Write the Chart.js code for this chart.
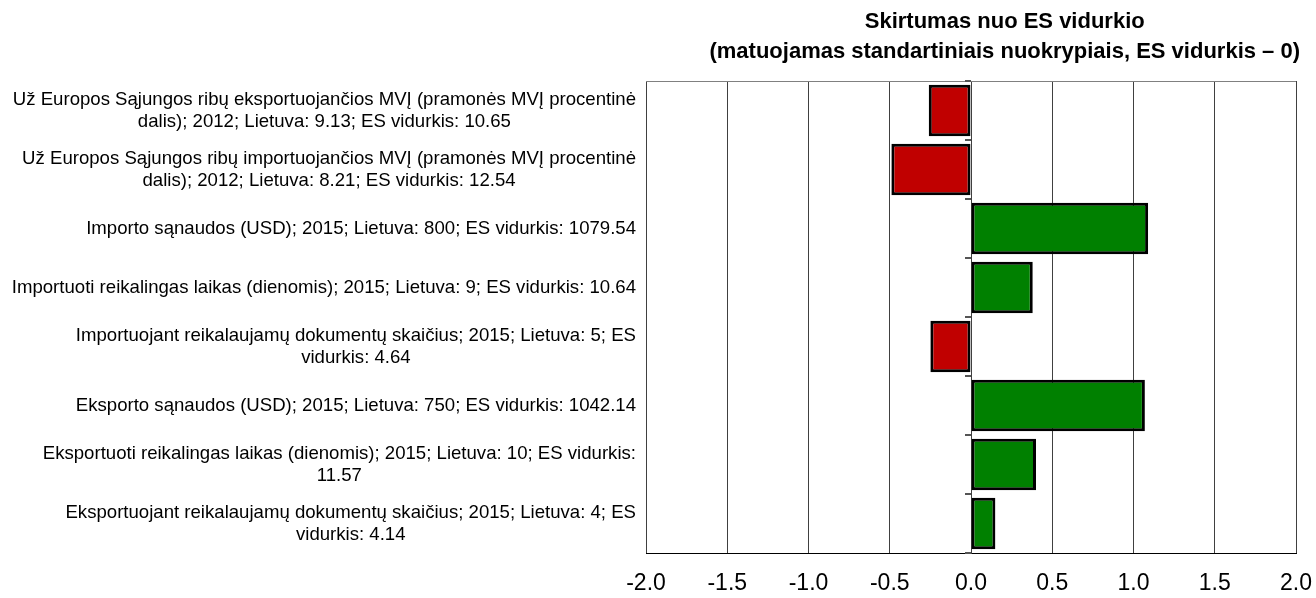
<!DOCTYPE html>
<html>
<head>
<meta charset="utf-8">
<script src="https://cdn.jsdelivr.net/npm/chart.js@4/dist/chart.umd.min.js"></script>
<style>
  html, body { margin: 0; padding: 0; background: #fff; }
  #wrap { width: 1316px; height: 598px; position: relative; }
</style>
</head>
<body>
<div id="wrap"><canvas id="chart"></canvas></div>
<script>
// Rodikliai (kategorijų etiketės, po eilutę masyve)
const categories = [
    ['Už Europos Sąjungos ribų eksportuojančios MVĮ (pramonės MVĮ procentinė', 'dalis); 2012; Lietuva: 9.13; ES vidurkis: 10.65'],
    ['Už Europos Sąjungos ribų importuojančios MVĮ (pramonės MVĮ procentinė', 'dalis); 2012; Lietuva: 8.21; ES vidurkis: 12.54'],
    ['Importo sąnaudos (USD); 2015; Lietuva: 800; ES vidurkis: 1079.54'],
    ['Importuoti reikalingas laikas (dienomis); 2015; Lietuva: 9; ES vidurkis: 10.64'],
    ['Importuojant reikalaujamų dokumentų skaičius; 2015; Lietuva: 5; ES', 'vidurkis: 4.64'],
    ['Eksporto sąnaudos (USD); 2015; Lietuva: 750; ES vidurkis: 1042.14'],
    ['Eksportuoti reikalingas laikas (dienomis); 2015; Lietuva: 10; ES vidurkis:', '11.57'],
    ['Eksportuojant reikalaujamų dokumentų skaičius; 2015; Lietuva: 4; ES', 'vidurkis: 4.14']
];

// Skirtumas nuo ES vidurkio, standartiniais nuokrypiais
const values = [-0.26, -0.49, 1.09, 0.38, -0.25, 1.07, 0.40, 0.15];

// X ašies ribos ir žingsnis
const xMin = -2.0;
const xMax = 2.0;
const xStep = 0.5;

const titleLines = [
    'Skirtumas nuo ES vidurkio',
    '(matuojamas standartiniais nuokrypiais, ES vidurkis – 0)'
];

const FONT = "'Liberation Sans', Arial, sans-serif";
const RED = '#c00000';
const GREEN = '#008000';

// Etiketės kairėje: blokas lygiuotas dešinėn, eilutės centruotos
const labelPlugin = {
    id: 'labels',
    afterDraw(chart) {
        const { ctx, chartArea, scales } = chart;
        const yScale = scales.y;
        const xScale = scales.x;
        ctx.save();

        // rėmelio viršus
        ctx.strokeStyle = '#808080';
        ctx.lineWidth = 1;
        ctx.beginPath();
        ctx.moveTo(chartArea.left, Math.round(chartArea.top) + 0.5);
        ctx.lineTo(chartArea.right, Math.round(chartArea.top) + 0.5);
        ctx.stroke();

        // smulkios žymės ties nuliu
        const x0 = xScale.getPixelForValue(0);
        ctx.strokeStyle = '#555';
        ctx.lineWidth = 2;
        for (let k = 0; k <= categories.length; k++) {
            const y = Math.round(yScale.getPixelForValue(k - 0.5));
            ctx.beginPath();
            ctx.moveTo(x0 - 6, y);
            ctx.lineTo(x0, y);
            ctx.stroke();
        }

        // kategorijų etiketės
        ctx.font = '18.6px ' + FONT;
        ctx.fillStyle = '#000';
        ctx.textAlign = 'center';
        ctx.textBaseline = 'middle';
        const rightEdge = chartArea.left - 10;
        categories.forEach((lines, i) => {
            const y = yScale.getPixelForValue(i);
            const widest = Math.max(...lines.map(l => ctx.measureText(l).width));
            const cx = rightEdge - widest / 2;
            lines.forEach((line, j) => {
                ctx.fillText(line, cx, y + (j - (lines.length - 1) / 2) * 22);
            });
        });

        // antraštė
        ctx.font = 'bold 22px ' + FONT;
        const tw = Math.max(...titleLines.map(l => ctx.measureText(l).width));
        const tx = chart.width - 16 - tw / 2;
        titleLines.forEach((line, j) => {
            ctx.fillText(line, tx, 22 + j * 30);
        });
        ctx.restore();
    }
};

const ctx = document.getElementById('chart').getContext('2d');
new Chart(ctx, {
    type: 'bar',
    data: {
        labels: categories,
        datasets: [{
            data: values,
            backgroundColor: values.map(v => v < 0 ? RED : GREEN),
            borderColor: '#000',
            borderWidth: 3,
            borderSkipped: false,
            barPercentage: 0.87,
            categoryPercentage: 1.0
        }]
    },
    options: {
        responsive: true,
        maintainAspectRatio: false,
        animation: false,
        indexAxis: 'y',
        layout: {
            padding: { left: 646, right: 20, top: 81, bottom: 0 }
        },
        plugins: {
            legend: { display: false },
            title: { display: false },
            tooltip: { enabled: false }
        },
        scales: {
            x: {
                min: xMin,
                max: xMax,
                ticks: {
                    stepSize: xStep,
                    callback: (v) => Number(v).toFixed(1),
                    color: '#000',
                    font: { family: FONT, size: 23 },
                    padding: 17,
                    maxRotation: 0
                },
                grid: {
                    color: '#404040',
                    lineWidth: 1,
                    drawTicks: false
                },
                border: { display: true, color: '#000', width: 1 },
                afterFit(scale) {
                    scale.height = 45;
                    scale.paddingLeft = 0;
                    scale.paddingRight = 0;
                }
            },
            y: {
                display: false
            }
        }
    },
    plugins: [labelPlugin]
});
</script>
</body>
</html>
